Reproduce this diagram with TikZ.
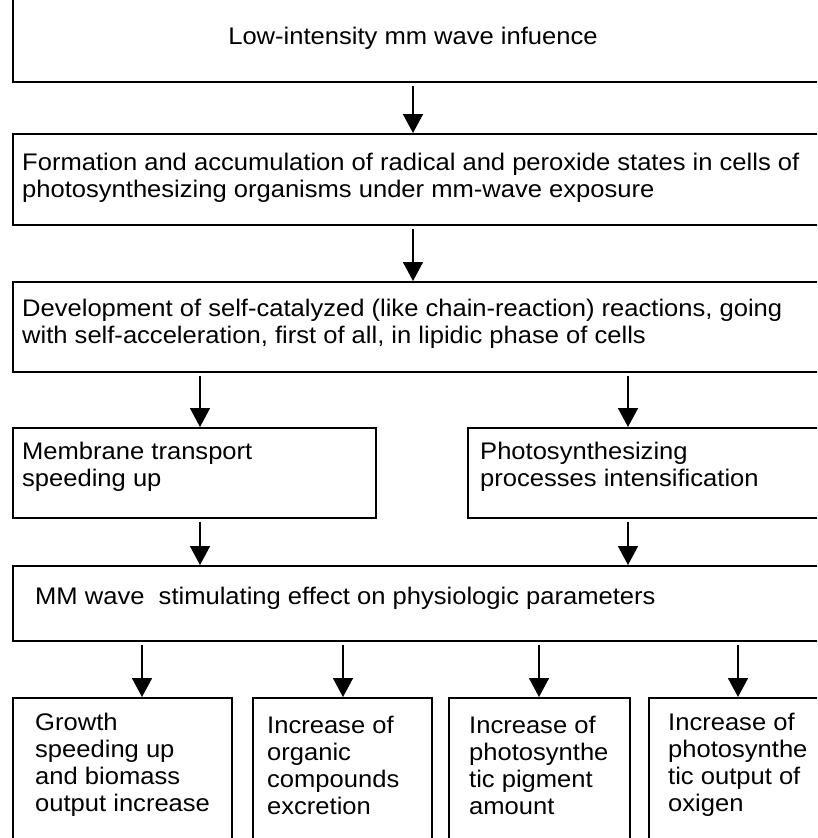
\documentclass[tikz,border=0pt]{standalone}
\usepackage{fontspec}
\setmainfont[FakeStretch=1.065]{Liberation Sans}
\usetikzlibrary{arrows.meta}
\begin{document}
\begin{tikzpicture}[x=1pt,y=-1pt,
    box/.style={draw,line width=1.6pt,anchor=north west,inner sep=0pt},
    txt/.style={font=\fontsize{24}{27}\selectfont,align=left,inner sep=0pt,anchor=west},
    arr/.style={-{Triangle[width=20pt,length=19pt]},line width=1.6pt,shorten <=3pt}]
  \useasboundingbox (0,0) rectangle (817,838);
  \clip (0,0) rectangle (817,838);

  % Boxes
  \node[box,minimum width=830pt,minimum height=91pt] (infl) at (12,-10) {};
  \node[box,minimum width=830pt,minimum height=91pt] (form) at (12,133) {};
  \node[box,minimum width=830pt,minimum height=90pt] (devel) at (12,281) {};
  \node[box,minimum width=363pt,minimum height=90pt] (membr) at (12,427) {};
  \node[box,minimum width=380pt,minimum height=90pt] (photo) at (467,427) {};
  \node[box,minimum width=830pt,minimum height=75pt] (effect) at (12,565) {};
  \node[box,minimum width=219pt,minimum height=160pt] (growth) at (12,697) {};
  \node[box,minimum width=179pt,minimum height=160pt] (organic) at (252,697) {};
  \node[box,minimum width=181pt,minimum height=160pt] (pigment) at (448,697) {};
  \node[box,minimum width=200pt,minimum height=160pt] (oxigen) at (648,697) {};

  % Texts
  \node[txt,anchor=center] (tinfl) at (413,38) {Low-intensity mm wave infuence};
  \node[txt] (tform) at (22,178) {Formation and accumulation of radical and peroxide states in cells of\\photosynthesizing organisms under mm-wave exposure};
  \node[txt] (tdevel) at (22,324) {Development of self-catalyzed (like chain-reaction) reactions, going\\with self-acceleration, first of all, in lipidic phase of cells};
  \node[txt] (tmembr) at (22,467) {Membrane transport\\speeding up};
  \node[txt] (tphoto) at (480,467) {Photosynthesizing\\processes intensification};
  \node[txt] (teffect) at (35,598) {MM wave\ \ stimulating effect on physiologic parameters};
  \node[txt] (tgrowth) at (35,765) {Growth\\speeding up\\and biomass\\output increase};
  \node[txt] (torganic) at (267,765) {Increase of\\organic\\compounds\\excretion};
  \node[txt] (tpigment) at (469,765) {Increase of\\photosynthe\\tic pigment\\amount};
  \node[txt] (toxigen) at (668,765) {Increase of\\photosynthe\\tic output of\\oxigen};

  % Arrow columns
  \coordinate (cmid) at (413,0);
  \coordinate (cleft) at (200,0);
  \coordinate (cright) at (628,0);
  \coordinate (c1) at (142,0);
  \coordinate (c2) at (343,0);
  \coordinate (c3) at (539,0);
  \coordinate (c4) at (738,0);

  % Arrows
  \draw[arr] (infl.south -| cmid) -- (form.north -| cmid);
  \draw[arr] (form.south -| cmid) -- (devel.north -| cmid);
  \draw[arr] (devel.south -| cleft) -- (membr.north -| cleft);
  \draw[arr] (devel.south -| cright) -- (photo.north -| cright);
  \draw[arr] (membr.south -| cleft) -- (effect.north -| cleft);
  \draw[arr] (photo.south -| cright) -- (effect.north -| cright);
  \draw[arr] (effect.south -| c1) -- (growth.north -| c1);
  \draw[arr] (effect.south -| c2) -- (organic.north -| c2);
  \draw[arr] (effect.south -| c3) -- (pigment.north -| c3);
  \draw[arr] (effect.south -| c4) -- (oxigen.north -| c4);
\end{tikzpicture}
\end{document}
